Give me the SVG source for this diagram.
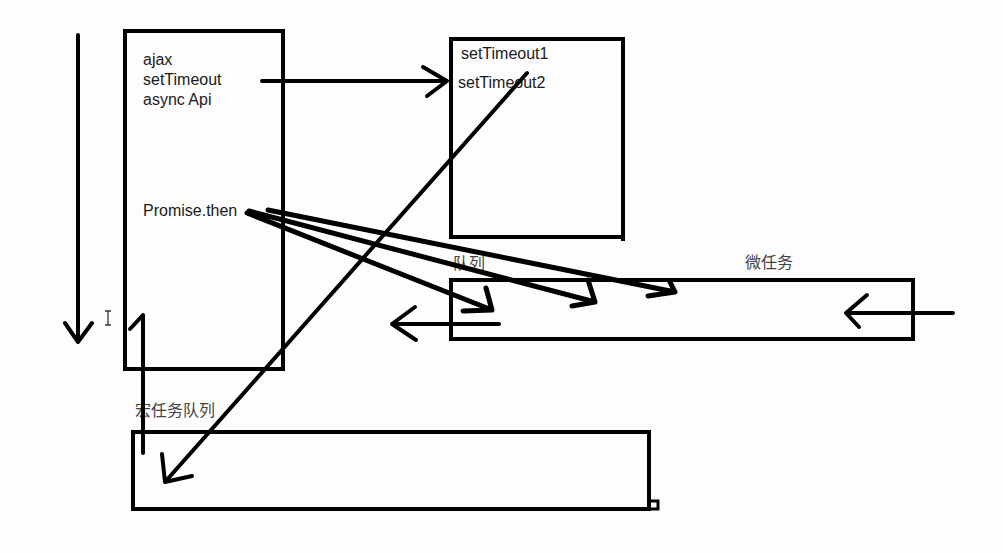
<svg xmlns="http://www.w3.org/2000/svg" width="1003" height="553" viewBox="0 0 1003 553">
<style>
.box{fill:none;stroke:#000;stroke-width:4}
.ln{fill:none;stroke:#000;stroke-width:4;stroke-linecap:round;stroke-linejoin:round}
.lt{fill:none;stroke:#000;stroke-width:5;stroke-linecap:round;stroke-linejoin:round}
.en{font-family:"Liberation Sans",Arial,sans-serif;font-size:16px;fill:#1a1a1a}
.cn{font-family:"Liberation Sans","Noto Sans CJK SC",sans-serif;font-size:16px;fill:#444}
</style>
<rect width="1003" height="553" fill="#fdfdfd"/>
<g id="callstack">
<rect class="box" x="125" y="31" width="158" height="338"/>
<text class="en" x="143" y="65">ajax</text>
<text class="en" x="143" y="85">setTimeout</text>
<text class="en" x="143" y="105">async Api</text>
<text class="en" x="143" y="216">Promise.then</text>
</g>
<g id="webapi">
<rect class="box" x="451" y="39" width="172" height="198"/>
<line class="box" x1="623" y1="235" x2="623" y2="241"/>
<text class="en" x="461" y="59">setTimeout1</text>
<text class="en" x="458" y="88">setTimeout2</text>
</g>
<g id="microtask">
<rect class="box" x="451" y="280" width="462" height="59"/>
<text class="cn" x="453" y="269" font-size="15">队列</text>
<text class="cn" x="745" y="268">微任务</text>
</g>
<g id="macrotask">
<rect class="box" x="133" y="432" width="516" height="77"/>
<rect x="649" y="501" width="9" height="8" fill="none" stroke="#000" stroke-width="3"/>
<text class="cn" x="135" y="416">宏任务队列</text>
</g>
<g id="cursor" fill="none" stroke="#333" stroke-width="1.3">
<path d="M105,311 H111 M108,311 V325 M105,325 H111"/>
</g>
<g id="connectors">
<path class="ln" d="M78,35 V342 M65,323 L78,342 L92,323"/>
<path class="ln" d="M262,81 H447 M423,67 L447,81 L427,96"/>
<path class="ln" d="M527,73 L165,482 M162,454 L165,482 L192,476"/>
<path class="ln" d="M143,453 V315 L130,329"/>
<path class="lt" d="M247,213 L492,310 M486,288 L492,310 L463,311"/>
<path class="lt" d="M249,211 L595,302 M588,280 L595,302 L572,306"/>
<path class="lt" d="M268,210 L675,292 M670,282 L675,292 L648,296"/>
<path class="ln" d="M499,324 H392 M415,307 L392,324 L416,340"/>
<path class="ln" d="M953,313 H846 M867,295 L846,313 L859,327"/>
</g>
</svg>
